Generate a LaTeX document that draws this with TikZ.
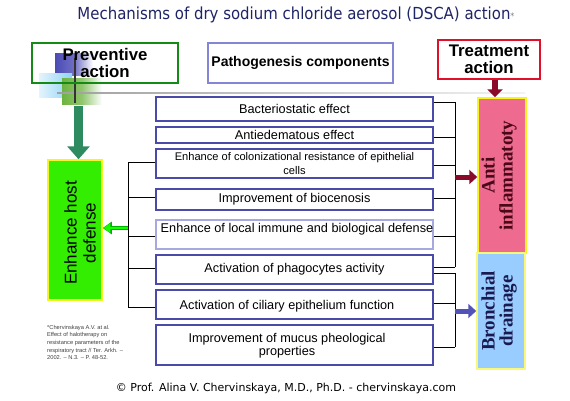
\documentclass[tikz,border=0pt]{standalone}
\usepackage{fontspec}
\setmainfont{Liberation Sans}
\newfontfamily\serifbold{Liberation Serif}
\newfontfamily\titlefont[FakeStretch=0.9]{DejaVu Sans}
\newfontfamily\creditfont{DejaVu Sans}
\usetikzlibrary{arrows.meta}
\definecolor{titleblue}{HTML}{1F2466}
\definecolor{boxblue}{HTML}{4A4AA8}
\definecolor{boxlight}{HTML}{A8A8E0}
\definecolor{pathblue}{HTML}{8585D5}
\definecolor{prevgreen}{HTML}{168A16}
\definecolor{treatred}{HTML}{E0102A}
\definecolor{hostgreen}{HTML}{33EE00}
\definecolor{yellowedge}{HTML}{F5F520}
\definecolor{antipink}{HTML}{EE6A8F}
\definecolor{bronblue}{HTML}{99CCFF}
\definecolor{arrowred}{HTML}{8A0A2A}
\definecolor{arrowblue}{HTML}{5252B8}
\definecolor{seagreen}{HTML}{2E8B60}
\definecolor{antitext}{HTML}{4A0818}
\definecolor{brontext}{HTML}{1A1A50}
\definecolor{sqblue}{HTML}{4B4BB5}
\definecolor{sqcyan}{HTML}{8FD3F5}
\definecolor{sqgreen}{HTML}{6DB33F}
\tikzset{
  pbox/.style={draw=boxblue, line width=1.3pt, minimum width=277pt, inner sep=0pt, align=center, font=\fontsize{12.7}{13}\selectfont},
  headbox/.style={draw, line width=1.5pt, align=center, font=\fontsize{16.8}{17}\bfseries\selectfont, inner sep=0pt},
  sidebox/.style={draw=yellowedge, line width=1.5pt, inner sep=0pt},
  brace/.style={line width=1pt, black},
  blockred/.style={line width=5pt, arrowred, -{Triangle[width=14pt,length=8pt]}},
  blockblue/.style={line width=5pt, arrowblue, -{Triangle[width=14pt,length=8pt]}},
}
\begin{document}
\begin{tikzpicture}[x=1pt,y=-1pt]
\useasboundingbox[fill=white] (0,0) rectangle (570,400);

% title
\node[text=titleblue, font=\titlefont\fontsize{16.6}{16}\selectfont] (title) at (296,15) {Mechanisms of dry sodium chloride aerosol (DSCA) action{\color{gray}\fontsize{9}{9}\selectfont*}};

% decorative squares
\shade[left color=sqblue, right color=white, middle color=sqblue!80] (55,53) rectangle (93,75);
\shade[left color=sqcyan!25, right color=sqcyan] (39,73) rectangle (72,97);
\shade[left color=sqgreen, right color=white, middle color=sqgreen!75] (62,78) rectangle (102,104);
\shade[left color=gray!75, right color=gray!10] (57,92) rectangle (525,93.5);
\draw[line width=1.2pt, black!80] (75,58) -- (75,103);

% header boxes
\node[headbox, draw=prevgreen, minimum width=146pt, minimum height=40pt] (prev) at (105,63) {Preventive\\action};
\node[headbox, draw=pathblue, line width=2pt, minimum width=185pt, minimum height=40pt, font=\fontsize{14}{14}\bfseries\selectfont] (path) at (300.5,63) {Pathogenesis components};
\node[headbox, draw=treatred, minimum width=102pt, minimum height=39pt] (treat) at (489,59.5) {Treatment\\action};

% middle boxes
\node[pbox, minimum height=24pt] (b1) at (294.5,109) {Bacteriostatic effect};
\node[pbox, minimum height=16pt] (b2) at (294.5,135) {Antiedematous effect};
\node[pbox, minimum height=29pt, font=\fontsize{11.1}{14}\selectfont] (b3) at (294.5,163.5) {Enhance of colonizational resistance of epithelial\\cells};
\node[pbox, minimum height=21pt] (b4) at (294.5,199.5) {Improvement of biocenosis};
\node[pbox, draw=boxlight, minimum height=29pt] (b5) at (294.5,234.5) {};
\node[font=\fontsize{12.7}{13}\selectfont] (b5t) at (297,229) {Enhance of local immune and biological defense};
\node[pbox, minimum height=29pt] (b6) at (294.5,269.5) {Activation of phagocytes activity};
\node[pbox, minimum height=29pt] (b7) at (294.5,304.5) {};
\node[font=\fontsize{12.7}{13}\selectfont] (b7t) at (287,306) {Activation of ciliary epithelium function};
\node[pbox, minimum height=40pt] (b8) at (294.5,345) {};
\node[font=\fontsize{12.7}{13}\selectfont, align=center] (b8t) at (287,345.5) {Improvement of mucus pheological\\properties};

% left host box
\node[sidebox, fill=hostgreen, minimum width=54pt, minimum height=140pt] (host) at (75,230) {};
\node[rotate=90, align=center, font=\fontsize{17}{19}\selectfont] (hostt) at (80,233) {Enhance host\\defense};

% right boxes
\node[sidebox, fill=antipink, minimum width=48pt, minimum height=155pt] (anti) at (502,175.5) {};
\node[rotate=90, align=center, text=antitext, font=\serifbold\fontsize{19}{18}\bfseries\selectfont] (antit) at (499,175.5) {Anti\\inflammatoty};
\node[sidebox, draw=yellowedge!60, fill=bronblue, minimum width=48pt, minimum height=116pt] (bron) at (501,311) {};
\node[rotate=90, align=center, text=brontext, font=\serifbold\fontsize{19}{18}\bfseries\selectfont] (bront) at (499,311) {Bronchial\\drainage};

% preventive arrow
\coordinate (pa) at (78.5,106);
\draw[line width=9pt, seagreen, -{Triangle[width=22pt,length=13pt]}] (pa) -- (host.north -| pa);

% treatment arrow
\coordinate (ta) at (495,80);
\draw[line width=6pt, arrowred, -{Triangle[width=15pt,length=8pt]}] (ta) -- (anti.north -| ta);

% left bracket
\coordinate (l3) at (128,162);
\coordinate (l4) at (128,197);
\coordinate (l5) at (128,236);
\coordinate (l6) at (128,268);
\coordinate (l7) at (128,307);
\coordinate (lA) at (128,228);
\draw[brace] (l3) -- (l7);
\foreach \i/\b in {l3/b3,l4/b4,l5/b5,l6/b6,l7/b7} \draw[brace] (\i) -- (\i -| \b.west);
\draw[line width=4.5pt, green!70!black, -{Triangle[width=12pt,length=9pt]}] (lA) -- (lA -| host.east);
\draw[line width=2.5pt, green!90!lime, -{Triangle[width=9pt,length=6.5pt]}, shorten >=1pt] (lA) -- (lA -| host.east);

% right bracket upper
\coordinate (r1) at (455,102);
\coordinate (r2) at (455,137);
\coordinate (r3) at (455,165);
\coordinate (r4) at (455,198);
\coordinate (r5) at (455,236);
\coordinate (r6) at (455,267);
\coordinate (rA) at (455,177);
\draw[brace] (r1) -- (r6);
\foreach \i/\b in {r1/b1,r2/b2,r3/b3,r4/b4,r5/b5,r6/b6} \draw[brace] (\i) -- (\i -| \b.east);
\draw[blockred] (rA) -- (rA -| anti.west);

% right bracket lower
\coordinate (s6) at (455,273);
\coordinate (s7) at (455,303);
\coordinate (s8) at (455,347);
\coordinate (sA) at (455,311);
\draw[brace] (s6) -- (s8);
\foreach \i/\b in {s6/b6,s7/b7,s8/b8} \draw[brace] (\i) -- (\i -| \b.east);
\draw[blockblue] (sA) -- (sA -| bron.west);

% footnote
\node[anchor=north west, align=left, text=black!75, font=\fontsize{5.7}{7.6}\selectfont, inner sep=0pt] (foot) at (47,325) {*Chervinskaya A.V. at al.\\Effect of halotherapy on\\resistance parameters of the\\respiratory tract // Ter. Arkh. –\\2002. – N.3. – P. 48-52.};

% credit
\node[font=\creditfont\fontsize{11}{11}\selectfont] (credit) at (286,388) {© Prof. Alina V. Chervinskaya, M.D., Ph.D. - chervinskaya.com};
\end{tikzpicture}
\end{document}
